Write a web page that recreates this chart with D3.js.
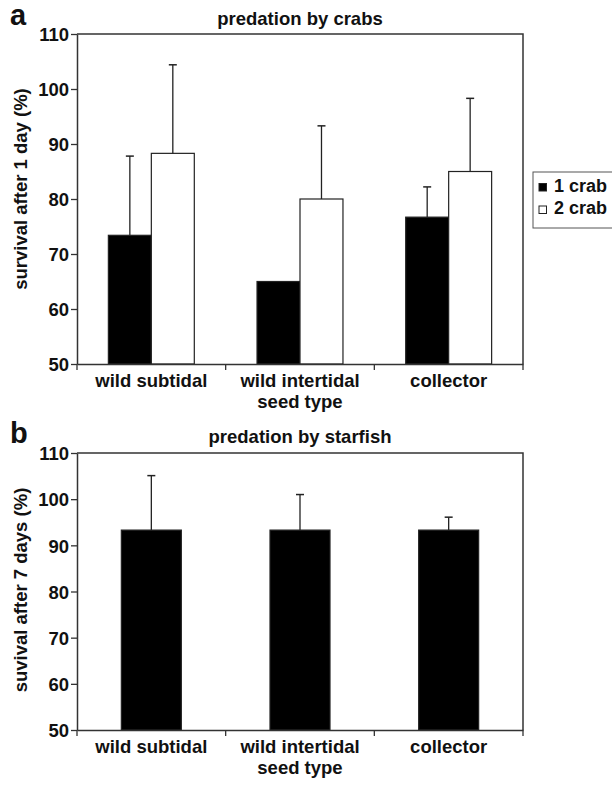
<!DOCTYPE html>
<html>
<head>
<meta charset="utf-8">
<script src="https://cdn.jsdelivr.net/npm/d3@7"></script>
<style>
  html, body { margin: 0; padding: 0; background: #fff; }
  svg text { font-family: "Liberation Sans", Arial, Helvetica, sans-serif; font-weight: bold; fill: #111; }
</style>
</head>
<body>
<svg id="fig" width="612" height="785"></svg>
<script>
// Seed types on the x axis
const categories = ["wild subtidal", "wild intertidal", "collector"];
const yTicks = [50, 60, 70, 80, 90, 100, 110];

// Panel a: survival after 1 day with crabs (mean and upper SD)
const crabSeries = ["1 crab", "2 crab"];
const oneCrab = [73.4, 65.0, 76.7];
const oneCrabErr = [14.4, 0, 5.5];
const twoCrab = [88.3, 80.0, 85.0];
const twoCrabErr = [16.1, 13.3, 13.3];

// Panel b: survival after 7 days with starfish
const starfish = [93.3, 93.3, 93.3];
const starfishErr = [11.8, 7.7, 2.8];

const svg = d3.select("#fig");
const left = 77, right = 523;
const axisColor = "#333";
const fs = "18.5px";

function panel(opts) {
  const g = svg.append("g");
  const x = d3.scaleBand().domain(categories).range([left, right]).padding(0);
  const y = d3.scaleLinear().domain([50, 110]).range([opts.bottom, opts.top]);

  // frame (top and right edges)
  g.append("path")
    .attr("d", `M${left},${opts.top}H${right}V${opts.bottom}`)
    .attr("fill", "none").attr("stroke", axisColor).attr("stroke-width", 1.5);

  // bars
  opts.series.forEach(s => {
    const bars = g.append("g");
    categories.forEach((c, i) => {
      const bx = x(c) + s.x(s.name);
      const bw = s.x.bandwidth();
      bars.append("rect")
        .attr("x", bx).attr("y", y(s.values[i]))
        .attr("width", bw).attr("height", y(50) - y(s.values[i]))
        .attr("fill", s.fill).attr("stroke", "#222").attr("stroke-width", 1.2);
      if (s.err[i] > 0) {
        const cx = bx + bw / 2;
        const top = y(s.values[i] + s.err[i]);
        bars.append("line").attr("x1", cx).attr("x2", cx)
          .attr("y1", y(s.values[i])).attr("y2", top)
          .attr("stroke", "#222").attr("stroke-width", 1.3);
        bars.append("line").attr("x1", cx - 4).attr("x2", cx + 4)
          .attr("y1", top).attr("y2", top)
          .attr("stroke", "#222").attr("stroke-width", 1.5);
      }
    });
  });

  // y axis
  const ya = g.append("g").attr("transform", `translate(${left},0)`)
    .call(d3.axisLeft(y).tickValues(yTicks).tickSize(6).tickPadding(2).tickSizeOuter(0));
  ya.select(".domain").attr("stroke", axisColor).attr("stroke-width", 1.5);
  ya.selectAll(".tick line").attr("stroke", axisColor).attr("stroke-width", 1.3);
  ya.selectAll(".tick text").style("font-size", fs).attr("dy", "0.36em");

  // x axis with ticks at the category boundaries
  const xa = g.append("g").attr("transform", `translate(0,${opts.bottom})`)
    .call(d3.axisBottom(x).tickSize(0).tickPadding(10).tickSizeOuter(0));
  xa.select(".domain").attr("stroke", axisColor).attr("stroke-width", 1.5);
  xa.selectAll(".tick text").style("font-size", fs).attr("dy", "0.71em");
  const edges = [x(categories[0])].concat(categories.map(c => x(c) + x.bandwidth()));
  g.selectAll(".edge").data(edges).join("line")
    .attr("x1", d => d).attr("x2", d => d)
    .attr("y1", opts.bottom).attr("y2", opts.bottom + 6)
    .attr("stroke", axisColor).attr("stroke-width", 1.3);

  g.append("text").attr("x", (left + right) / 2).attr("y", opts.bottom + 44)
    .attr("text-anchor", "middle").style("font-size", fs).text("seed type");

  // panel letter and title
  g.append("text").attr("x", 10).attr("y", opts.letterY)
    .style("font-size", "29px").text(opts.letter);
  g.append("text").attr("x", (left + right) / 2).attr("y", opts.titleY)
    .attr("text-anchor", "middle").style("font-size", fs).text(opts.title);

  // y axis title
  g.append("text")
    .attr("transform", `translate(27,${opts.yLabelC}) rotate(-90)`)
    .attr("text-anchor", "middle").style("font-size", fs).text(opts.yLabel);

  return { x, y, g };
}

// panel a
const pairX = d3.scaleBand().domain(crabSeries).range([0, (right - left) / categories.length])
  .paddingInner(0).paddingOuter(0.73);
panel({
  top: 34, bottom: 364, letter: "a", letterY: 25, title: "predation by crabs", titleY: 25,
  yLabel: "survival after 1 day (%)", yLabelC: 189,
  series: [
    { name: "1 crab", values: oneCrab, err: oneCrabErr, fill: "#000", x: pairX },
    { name: "2 crab", values: twoCrab, err: twoCrabErr, fill: "#fff", x: pairX }
  ]
});

// legend for panel a
const legend = svg.append("g");
legend.append("rect").attr("x", 533).attr("y", 172).attr("width", 100).attr("height", 56)
  .attr("fill", "#fff").attr("stroke", "#555").attr("stroke-width", 1);
crabSeries.forEach((name, i) => {
  const cy = 191.5 + i * 22.5;
  legend.append("rect").attr("x", 539).attr("y", cy - 8).attr("width", 7.5).attr("height", 7.5)
    .attr("fill", i === 0 ? "#000" : "#fff").attr("stroke", "#222").attr("stroke-width", 1);
  legend.append("text").attr("x", 554).attr("y", cy).style("font-size", "18px").text(name);
});

// panel b
const singleX = d3.scaleBand().domain(["starfish"]).range([0, (right - left) / categories.length])
  .padding(0.425);
panel({
  top: 453, bottom: 730, letter: "b", letterY: 443, title: "predation by starfish", titleY: 443,
  yLabel: "suvival after 7 days (%)", yLabelC: 590,
  series: [
    { name: "starfish", values: starfish, err: starfishErr, fill: "#000", x: singleX }
  ]
});
</script>
</body>
</html>
